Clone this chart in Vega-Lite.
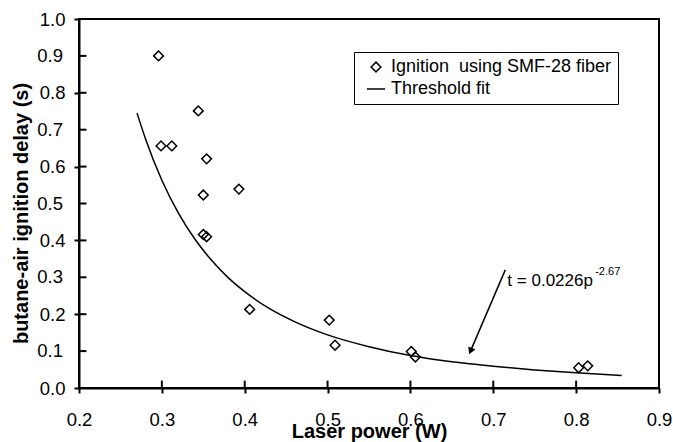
{
  "$schema": "https://vega.github.io/schema/vega-lite/v6.json",
  "width": 580,
  "height": 369,
  "autosize": "none",
  "padding": {"left": 79, "top": 19, "right": 14, "bottom": 54},
  "background": "white",
  "config": {
    "view": {"stroke": "black", "strokeWidth": 2},
    "font": "Liberation Sans",
    "axis": {
      "grid": false,
      "domainColor": "black",
      "domainWidth": 2,
      "tickColor": "black",
      "tickWidth": 2,
      "labelColor": "black",
      "labelFont": "Liberation Sans",
      "labelFontSize": 18.5,
      "titleColor": "black",
      "titleFont": "Liberation Sans",
      "titleFontSize": 20,
      "titleFontWeight": "bold"
    }
  },
  "datasets": {
    "ignition": [
      {"p": 0.296, "t": 0.90},
      {"p": 0.299, "t": 0.656},
      {"p": 0.312, "t": 0.656},
      {"p": 0.344, "t": 0.751},
      {"p": 0.354, "t": 0.621},
      {"p": 0.350, "t": 0.523},
      {"p": 0.393, "t": 0.539},
      {"p": 0.350, "t": 0.416},
      {"p": 0.354, "t": 0.410},
      {"p": 0.406, "t": 0.213},
      {"p": 0.502, "t": 0.184},
      {"p": 0.509, "t": 0.116},
      {"p": 0.601, "t": 0.099},
      {"p": 0.606, "t": 0.084},
      {"p": 0.803, "t": 0.055},
      {"p": 0.814, "t": 0.060}
    ],
    "fit": [
      {"p": 0.27, "t": 0.745},
      {"p": 0.28, "t": 0.677},
      {"p": 0.30, "t": 0.563},
      {"p": 0.32, "t": 0.474},
      {"p": 0.34, "t": 0.403},
      {"p": 0.36, "t": 0.346},
      {"p": 0.38, "t": 0.299},
      {"p": 0.40, "t": 0.261},
      {"p": 0.43, "t": 0.215},
      {"p": 0.46, "t": 0.180},
      {"p": 0.50, "t": 0.144},
      {"p": 0.55, "t": 0.112},
      {"p": 0.60, "t": 0.088},
      {"p": 0.65, "t": 0.071},
      {"p": 0.70, "t": 0.059},
      {"p": 0.75, "t": 0.049},
      {"p": 0.80, "t": 0.041},
      {"p": 0.855, "t": 0.034}
    ],
    "xticks": [
      {"v": 0.3}, {"v": 0.4}, {"v": 0.5}, {"v": 0.6}, {"v": 0.7}, {"v": 0.8}
    ],
    "yticks": [
      {"v": 0.1}, {"v": 0.2}, {"v": 0.3}, {"v": 0.4}, {"v": 0.5},
      {"v": 0.6}, {"v": 0.7}, {"v": 0.8}, {"v": 0.9}
    ],
    "oddlabels": [
      {"v": 0.1}, {"v": 0.3}, {"v": 0.5}, {"v": 0.7}, {"v": 0.9}
    ]
  },
  "layer": [
    {
      "data": {"name": "fit"},
      "mark": {"type": "line", "color": "black", "strokeWidth": 1.5, "interpolate": "monotone"},
      "encoding": {
        "x": {
          "field": "p",
          "type": "quantitative",
          "title": "Laser power (W)",
          "scale": {"domain": [0.2, 0.9], "nice": false, "zero": false},
          "axis": {"values": [0.2, 0.3, 0.4, 0.5, 0.6, 0.7, 0.8, 0.9], "format": ".1f", "labelFlush": false, "labelOverlap": false, "labelPadding": 17, "titleBaseline": "alphabetic", "titleY": 49}
        },
        "y": {
          "field": "t",
          "type": "quantitative",
          "title": "butane-air ignition delay (s)",
          "scale": {"domain": [0, 1], "nice": false},
          "axis": {"values": [0, 0.2, 0.4, 0.6, 0.8, 1], "format": ".1f", "labelFlush": false, "labelOverlap": false, "labelPadding": 9, "titlePadding": 8, "titleY": 194}
        }
      }
    },
    {
      "data": {"name": "xticks"},
      "mark": {"type": "rule", "color": "black", "strokeWidth": 2},
      "encoding": {
        "x": {"field": "v", "type": "quantitative"},
        "y": {"datum": 0},
        "y2": {"datum": 0.02}
      }
    },
    {
      "data": {"name": "yticks"},
      "mark": {"type": "rule", "color": "black", "strokeWidth": 2},
      "encoding": {
        "y": {"field": "v", "type": "quantitative"},
        "x": {"datum": 0.2},
        "x2": {"datum": 0.209}
      }
    },
    {
      "data": {"name": "oddlabels"},
      "mark": {"type": "text", "align": "right", "baseline": "middle", "dx": -16, "fontSize": 18.5, "font": "Liberation Sans", "color": "black"},
      "encoding": {
        "y": {"field": "v", "type": "quantitative"},
        "x": {"datum": 0.2},
        "text": {"field": "v", "type": "quantitative", "format": ".1f"}
      }
    },
    {
      "data": {"name": "ignition"},
      "transform": [{"calculate": "'Ignition\u00a0 using SMF-28 fiber'", "as": "series"}],
      "mark": {"type": "point", "filled": false, "color": "black", "strokeWidth": 1.5, "opacity": 1},
      "encoding": {
        "x": {"field": "p", "type": "quantitative"},
        "y": {"field": "t", "type": "quantitative"},
        "shape": {
          "field": "series",
          "type": "nominal",
          "scale": {"domain": ["Ignition\u00a0 using SMF-28 fiber", "Threshold fit"], "range": ["diamond", "stroke"]},
          "legend": {
            "title": null,
            "orient": "none",
            "legendX": 275,
            "legendY": 33,
            "padding": 6,
            "strokeColor": "black",
            "fillColor": "white",
            "labelFont": "Liberation Sans",
            "labelFontSize": 18,
            "labelColor": "black",
            "labelLimit": 400,
            "labelOffset": 5,
            "symbolOffset": 6,
            "symbolStrokeColor": "black",
            "symbolStrokeWidth": 1.5,
            "rowPadding": 3
          }
        },
        "size": {
          "field": "series",
          "type": "nominal",
          "scale": {"domain": ["Ignition\u00a0 using SMF-28 fiber", "Threshold fit"], "range": [95, 324]}
        }
      }
    },
    {
      "data": {"values": [{"p0": 0.7145, "t0": 0.32, "p1": 0.6725, "t1": 0.100}]},
      "mark": {"type": "rule", "color": "black", "strokeWidth": 1.5},
      "encoding": {
        "x": {"field": "p0", "type": "quantitative"},
        "y": {"field": "t0", "type": "quantitative"},
        "x2": {"field": "p1"},
        "y2": {"field": "t1"}
      }
    },
    {
      "data": {"values": [{"p": 0.6725, "t": 0.100}]},
      "mark": {"type": "point", "shape": "triangle-up", "filled": true, "color": "black", "size": 60, "angle": 203, "opacity": 1},
      "encoding": {
        "x": {"field": "p", "type": "quantitative"},
        "y": {"field": "t", "type": "quantitative"}
      }
    },
    {
      "data": {"values": [{"p": 0.717, "t": 0.276, "label": "t = 0.0226p"}]},
      "mark": {"type": "text", "align": "left", "baseline": "alphabetic", "fontSize": 17, "font": "Liberation Sans", "color": "black"},
      "encoding": {
        "x": {"field": "p", "type": "quantitative"},
        "y": {"field": "t", "type": "quantitative"},
        "text": {"field": "label"}
      }
    },
    {
      "data": {"values": [{"p": 0.823, "t": 0.306, "label": "-2.67"}]},
      "mark": {"type": "text", "align": "left", "baseline": "alphabetic", "fontSize": 11, "font": "Liberation Sans", "color": "black"},
      "encoding": {
        "x": {"field": "p", "type": "quantitative"},
        "y": {"field": "t", "type": "quantitative"},
        "text": {"field": "label"}
      }
    }
  ]
}
